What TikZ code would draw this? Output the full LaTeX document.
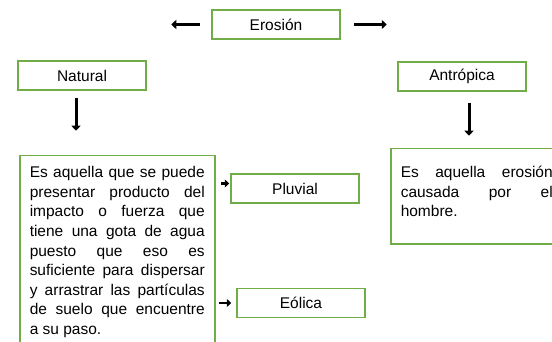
\documentclass[tikz,border=0pt]{standalone}
\usepackage{fontspec}
\setmainfont{Liberation Sans}
\usetikzlibrary{arrows.meta}
\definecolor{verde}{RGB}{112,173,71}

\begin{document}
\begin{tikzpicture}[x=1pt, y=-1pt,
        caja/.style = {shape=rectangle, draw=verde, line width=1.5pt,
                       minimum width=128pt, minimum height=29pt, inner sep=0pt,
                       font=\fontsize{15.5}{18}\selectfont},
        texto/.style = {caja, align=justify, anchor=north west,
                        text height=12pt, inner xsep=10pt,
                        font=\fontsize{15.5}{19.6}\selectfont},
        flecha/.style = {line width=3pt, -{Triangle[length=5pt,width=9pt]}},
        flechita/.style = {line width=2.5pt, -{Triangle[length=4.5pt,width=8pt]}}]
    \useasboundingbox (0,0) rectangle (552,342);
    \clip (0,0) rectangle (552,342);

    \node[caja] (erosion) at (276,24.5) {Erosión};
    \node[caja] (natural) at (82,75.5) {Natural};
    \node[caja] (antropica) at (462,76.5) {Antrópica};

    \node[texto, text width=175pt, inner ysep=10pt] (natdesc) at (19,155)
        {Es aquella que se puede\linebreak presentar producto del\linebreak
         impacto o fuerza que\linebreak tiene una gota de agua\linebreak
         puesto que eso es\linebreak suficiente para dispersar\linebreak
         y arrastrar las partículas\linebreak de suelo que encuentre\linebreak
         a su paso.};
    \node[texto, text width=152pt, inner ysep=17pt, text depth=49pt] (antdesc) at (390,148)
        {Es aquella erosión\linebreak causada por el\linebreak hombre.};

    \node[caja] (pluvial) at (295,188.5) {Pluvial};
    \node[caja] (eolica) at (301,303) {Eólica};

    \draw[flecha] ([xshift=-11pt]erosion.west) -- ++(-29,0);
    \draw[flecha] ([xshift=13pt]erosion.east) -- ++(33,0);
    \draw[flecha] ([xshift=-6pt,yshift=-7pt]natural.south) -- ++(0,33);
    \draw[flecha] ([xshift=7pt,yshift=-11pt]antropica.south) -- ++(0,33);
    \draw[flechita] ([xshift=-9pt,yshift=5pt]pluvial.west) -- ++(8,0);
    \draw[flechita] ([xshift=-17pt]eolica.west) -- ++(12,0);
\end{tikzpicture}
\end{document}
